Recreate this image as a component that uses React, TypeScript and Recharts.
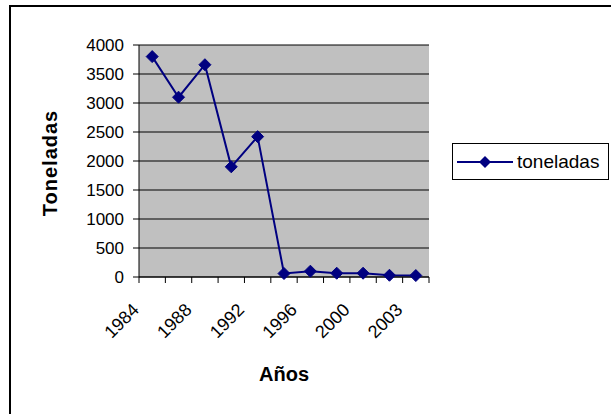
import React from "react";
import { LineChart, Line, XAxis, YAxis, CartesianGrid, Legend } from "recharts";

const years = ["1984", "1986", "1988", "1990", "1992", "1994", "1996", "1998", "2000", "2002", "2003"];
const toneladas = [3800, 3100, 3660, 1900, 2420, 60, 100, 65, 65, 30, 25];
const yTicks = [0, 500, 1000, 1500, 2000, 2500, 3000, 3500, 4000];

const data = years.map((year, i) => ({ idx: i, year, toneladas: toneladas[i] }));
// ticks on the category borders, like Excel does
const xTicks = years.map((_, i) => i - 0.5).concat(years.length - 0.5);

const FONT = '"Liberation Sans", Arial, sans-serif';
const NAVY = "#000080";

const Diamond = (props: any) => {
  const { cx, cy } = props;
  if (cx == null || cy == null) return null;
  const r = 6;
  return (
    <polygon
      points={`${cx},${cy - r} ${cx + r},${cy} ${cx},${cy + r} ${cx - r},${cy}`}
      fill={NAVY}
      stroke={NAVY}
    />
  );
};

const YearTick = (props: any) => {
  const { x, y, payload } = props;
  const k = payload.value + 0.5;
  if (k % 2 !== 0 || k >= years.length) return null;
  return (
    <g transform={`translate(${x + 1},${y + 26})`}>
      <text transform="rotate(-45)" textAnchor="end" fontSize={18} fontFamily={FONT} fill="#000">
        {years[k]}
      </text>
    </g>
  );
};

const renderLegend = () => (
  <div style={{ width: 180, paddingLeft: 23, boxSizing: "border-box" }}>
    <div
      style={{
        width: 157,
        height: 37,
        border: "1px solid #000",
        boxSizing: "border-box",
        background: "#fff",
        display: "flex",
        alignItems: "center",
      }}
    >
      <svg width={56} height={14} style={{ marginLeft: 4 }}>
        <line x1={0} y1={7} x2={56} y2={7} stroke={NAVY} strokeWidth={2} />
        <polygon points="28,1 34,7 28,13 22,7" fill={NAVY} />
      </svg>
      <span style={{ marginLeft: 4, fontSize: 19, fontFamily: FONT, color: "#000" }}>toneladas</span>
    </div>
  </div>
);

export default function App() {
  return (
    <div style={{ position: "absolute", left: 0, top: 0, width: 611, height: 414, overflow: "hidden", background: "#fff" }}>
      <div style={{ position: "absolute", left: 9, top: 5, width: 660, height: 460, border: "2px solid #000" }} />
      <div style={{ position: "absolute", left: 0, top: 0 }}>
        <LineChart width={611} height={414} data={data} margin={{ top: 45, right: 2, bottom: 77, left: 0 }}>
          <CartesianGrid horizontal vertical={false} stroke="#000" fill="#C0C0C0" />
          <XAxis
            dataKey="idx"
            type="number"
            domain={[-0.5, years.length - 0.5]}
            ticks={xTicks}
            interval={0}
            height={60}
            stroke="#000"
            tickSize={6}
            tick={<YearTick />}
          />
          <YAxis
            domain={[0, 4000]}
            ticks={yTicks}
            interval={0}
            width={139}
            stroke="#000"
            tickSize={6}
            tickMargin={9}
            tick={{ fill: "#000", fontSize: 17, fontFamily: FONT }}
          />
          <YAxis
            yAxisId="right"
            orientation="right"
            domain={[0, 4000]}
            width={0}
            tick={false}
            tickLine={false}
            stroke="#808080"
          />
          <Legend
            layout="vertical"
            align="right"
            verticalAlign="top"
            wrapperStyle={{ top: 143, right: 2 }}
            content={renderLegend}
          />
          <Line
            dataKey="toneladas"
            stroke={NAVY}
            strokeWidth={2}
            dot={<Diamond />}
            activeDot={false}
            isAnimationActive={false}
          />
          <text
            x={57}
            y={163}
            transform="rotate(-90, 57, 163)"
            textAnchor="middle"
            fontSize={20}
            fontWeight="bold"
            letterSpacing={1}
            fontFamily={FONT}
            fill="#000"
          >
            Toneladas
          </text>
          <text x={284} y={381} textAnchor="middle" fontSize={20} fontWeight="bold" fontFamily={FONT} fill="#000">
            Años
          </text>
        </LineChart>
      </div>
    </div>
  );
}
